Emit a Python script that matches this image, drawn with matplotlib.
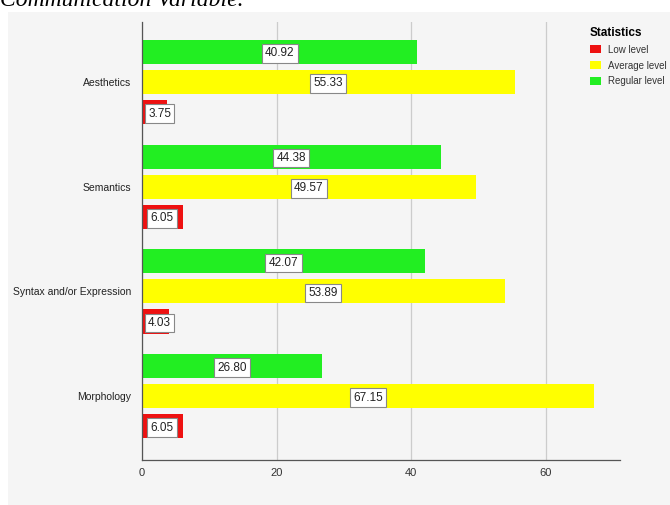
import numpy as np
import matplotlib.pyplot as plt
from matplotlib.patches import Rectangle

categories = ['Aesthetics', 'Semantics', 'Syntax and/or Expression', 'Morphology']
low_level = [3.75, 6.05, 4.03, 6.05]
average_level = [55.33, 49.57, 53.89, 67.15]
regular_level = [40.92, 44.38, 42.07, 26.80]
xticks = [0, 20, 40, 60]

RED = '#ee1111'
YELLOW = '#ffff00'
GREEN = '#22ee22'
BG = '#f5f5f5'

plt.rcParams['font.family'] = ['Liberation Sans', 'DejaVu Sans']

fig = plt.figure(figsize=(6.7, 5.05), dpi=100)
fig.patch.set_facecolor('white')
fig.patches.append(Rectangle((8/670, 0), 1, 1 - 12/505, transform=fig.transFigure,
                             facecolor=BG, edgecolor='none', zorder=-10))
fig.text(0.0, 1.0, 'Communication Variable.', family='Liberation Serif', style='italic',
         fontsize=17, ha='left', va='center')

ax = fig.add_axes([142/670, 45/505, 478/670, 438/505])
ax.set_facecolor(BG)

y = np.arange(len(categories))
off = 0.287
h = 0.23
ax.barh(y - off, regular_level, height=h, color=GREEN, label='Regular level', zorder=2)
ax.barh(y, average_level, height=h, color=YELLOW, label='Average level', zorder=2)
ax.barh(y + off, low_level, height=h, color=RED, label='Low level', zorder=2)

box = dict(boxstyle='square,pad=0.28', facecolor='white', edgecolor='#888888', linewidth=0.8)
for vals, dy in [(regular_level, -off), (average_level, 0), (low_level, off)]:
    for i, v in enumerate(vals):
        if v < 5:
            ax.text(0.9, i + dy, f'{v:.2f}', ha='left', va='center_baseline', fontsize=8.5,
                    color='#222222', bbox=box, zorder=3)
        else:
            ax.text(v / 2, i + dy, f'{v:.2f}', ha='center', va='center_baseline', fontsize=8.5,
                    color='#222222', bbox=box, zorder=3)

ax.set_xlim(0, 71)
ax.set_ylim(3.61, -0.573)
ax.set_yticks(y)
ax.set_yticklabels(categories, fontsize=7.5, color='#222222')
ax.set_xticks(xticks)
ax.set_xticklabels([str(t) for t in xticks], fontsize=8, color='#333333')
ax.tick_params(axis='y', length=0, pad=8)
ax.tick_params(axis='x', length=0, pad=6)
ax.grid(axis='x', color='#cccccc', linewidth=0.9, zorder=0)
for s in ['top', 'right']:
    ax.spines[s].set_visible(False)
for s in ['left', 'bottom']:
    ax.spines[s].set_color('#555555')
    ax.spines[s].set_linewidth(0.9)

handles, labels = ax.get_legend_handles_labels()
order = [2, 1, 0]
leg = ax.legend([handles[i] for i in order], [labels[i] for i in order],
                title='Statistics', loc='upper left', bbox_to_anchor=(585/670, 1 - 22/505),
                bbox_transform=fig.transFigure, frameon=False, fontsize=7,
                handlelength=1.15, handleheight=0.85, handletextpad=0.7, labelspacing=0.6,
                borderpad=0, alignment='left')
leg.get_title().set_fontweight('bold')
leg.get_title().set_fontsize(8.5)
for t in leg.get_texts():
    t.set_color('#333333')

fig.savefig('out.png', dpi=100, facecolor=fig.get_facecolor())
